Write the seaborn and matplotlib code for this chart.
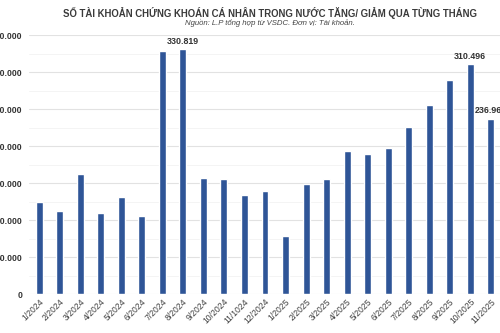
import matplotlib
matplotlib.use("Agg")
import matplotlib.pyplot as plt
import seaborn as sns
import pandas as pd
from matplotlib.ticker import FuncFormatter, MultipleLocator

months = ["1/2024", "2/2024", "3/2024", "4/2024", "5/2024", "6/2024", "7/2024", "8/2024",
          "9/2024", "10/2024", "11/1024", "12/2024", "1/2025", "2/2025", "3/2025", "4/2025",
          "5/2025", "6/2025", "7/2025", "8/2025", "9/2025", "10/2025", "11/2025"]
accounts = [124300, 112200, 162600, 110400, 131100, 105400, 328800, 330819,
            157200, 155400, 134700, 139600, 79300, 149100, 155900, 193200,
            190100, 197700, 225700, 256300, 289200, 310496, 236960]
labeled = ["8/2024", "10/2025", "11/2025"]

title = "SỐ TÀI KHOẢN CHỨNG KHOÁN CÁ NHÂN TRONG NƯỚC TĂNG/ GIẢM QUA TỪNG THÁNG"
subtitle = "Nguồn: L.P tổng hợp từ VSDC. Đơn vị: Tài khoản."

df = pd.DataFrame({"month": months, "accounts": accounts})

sns.set_theme(style="white")
plt.rcParams["font.family"] = ["Liberation Sans", "DejaVu Sans"]

fig = plt.figure(figsize=(5.0, 3.33), dpi=100)
ax = fig.add_axes([0.058, 0.1162, 0.944, 0.778])

bar_color = "#2F5597"
sns.barplot(data=df, x="month", y="accounts", color=bar_color, width=0.34,
            saturation=1, ax=ax, zorder=3)

ax.set_ylim(0, 350000)
ax.yaxis.set_major_locator(MultipleLocator(50000))
ax.yaxis.set_minor_locator(MultipleLocator(25000))
ax.yaxis.set_major_formatter(FuncFormatter(lambda v, p: f"{int(v):,}".replace(",", ".")))
ax.grid(axis="y", which="major", color="#E2E2E2", linewidth=0.8, zorder=0)
ax.grid(axis="y", which="minor", color="#F2F2F2", linewidth=0.6, zorder=0)
ax.set_xlim(-0.5, len(months) - 0.5)
for s in ax.spines.values():
    s.set_visible(False)
ax.set_xlabel("")
ax.set_ylabel("")
ax.tick_params(axis="both", which="both", length=0)
ax.tick_params(axis="y", pad=5, labelsize=6.2, labelcolor="#333333")
ax.tick_params(axis="x", pad=2, labelsize=6.2, labelcolor="#404040")
for lbl in ax.get_yticklabels():
    lbl.set_fontweight("bold")
plt.setp(ax.get_xticklabels(), rotation=45, ha="right", rotation_mode="anchor")

for i, (m, v) in enumerate(zip(months, accounts)):
    if m in labeled:
        ax.annotate(f"{v:,}".replace(",", "."), xy=(i, v), xytext=(0, 2.5),
                    textcoords="offset points", ha="center", va="bottom",
                    fontsize=6.4, fontweight="bold", color="#333333")

fig.text(0.54, 0.96, title, ha="center", va="center", fontsize=6.9,
         fontweight="bold", color="#3A3A3A")
fig.text(0.54, 0.93, subtitle, ha="center", va="center", fontsize=5.6,
         style="italic", color="#444444")

fig.savefig("out.png", dpi=100, facecolor="white")
